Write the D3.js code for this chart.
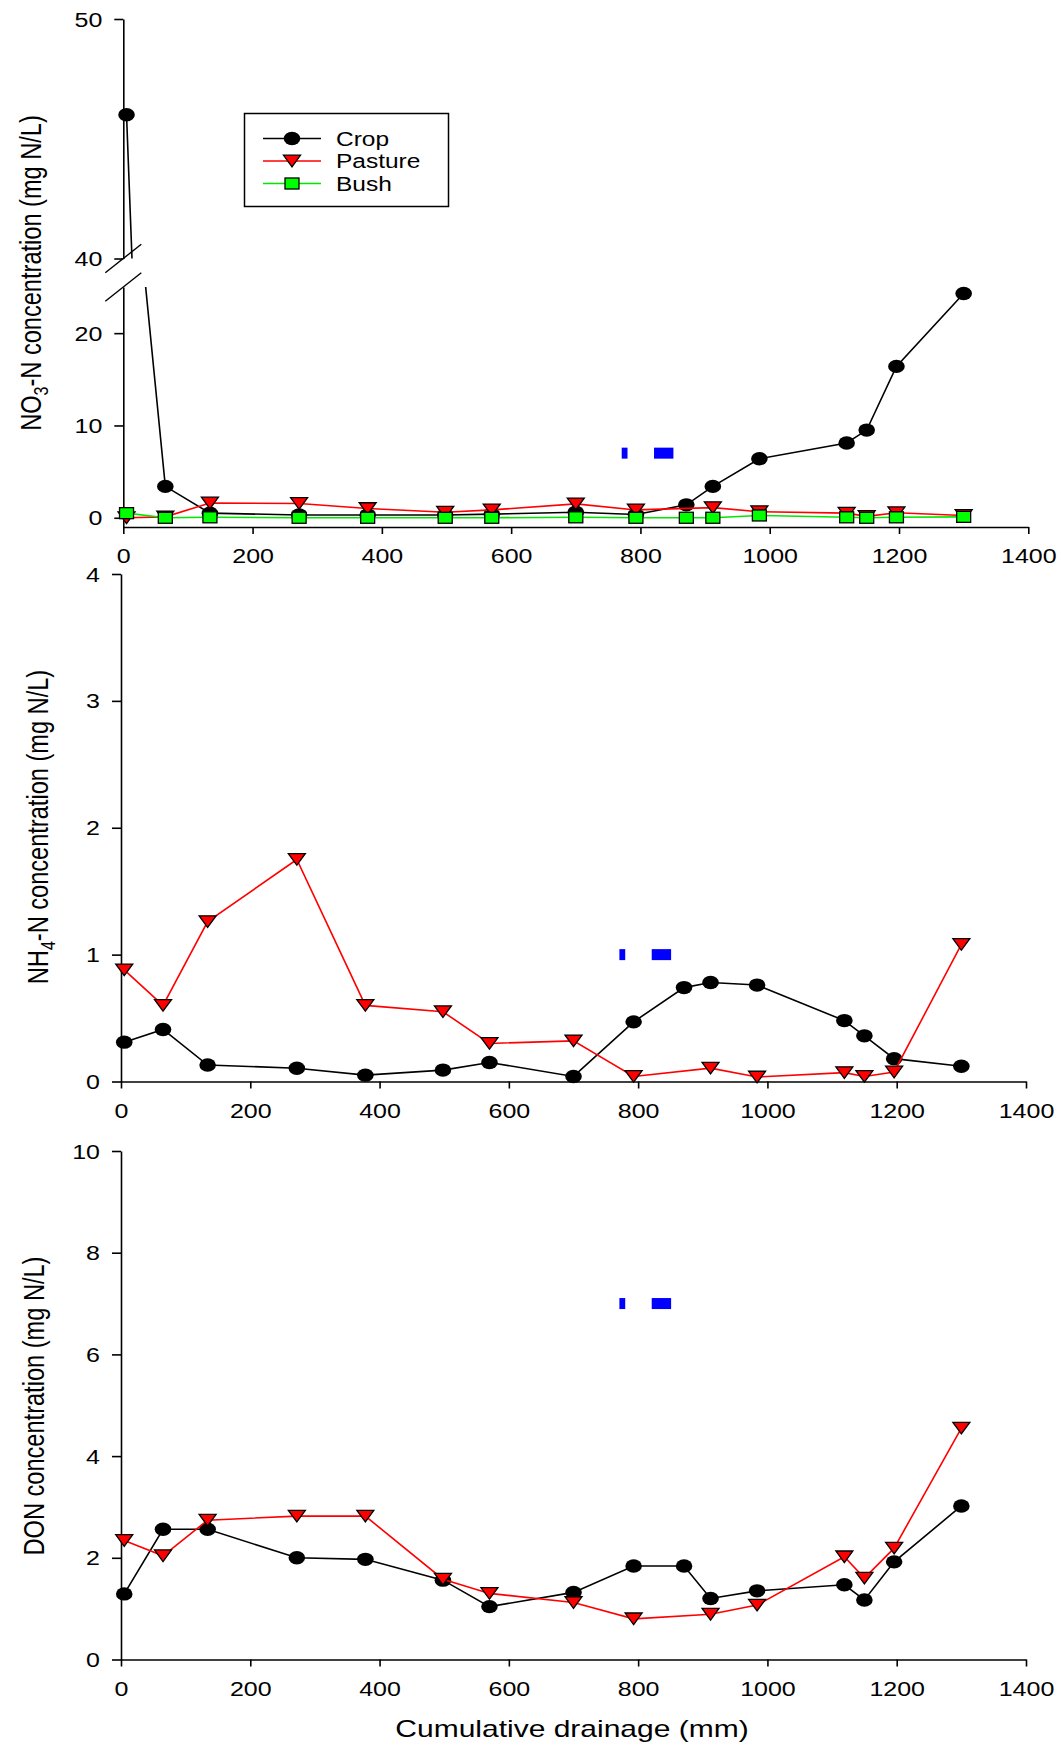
<!DOCTYPE html>
<html>
<head>
<meta charset="utf-8">
<script src="https://cdn.jsdelivr.net/npm/d3@7"></script>
<style>
  body { margin: 0; background: #fff; }
  svg { display: block; font-family: "Liberation Sans", Arial, sans-serif; }
</style>
</head>
<body>
<div id="chart"></div>
<script>
// cumulative drainage (mm), shared by all three panels
const drainage = [5, 65, 134, 272, 378, 498, 570, 700, 793, 871, 912, 984, 1119, 1150, 1196, 1300]

// NO3-N (mg N/L)
const no3Crop    = [46, 3.4, 0.5, 0.3, 0.3, 0.3, 0.4, 0.6, 0.35, 1.4, 3.4, 6.4, 8.1, 9.5, 16.4, 24.3]
const no3Pasture = [0, 0.1, 1.6, 1.55, 1.0, 0.6, 0.85, 1.5, 0.85, null, 1.1, 0.65, 0.5, 0.15, 0.55, 0.25]
const no3Bush    = [0.5, 0, 0.05, 0, 0, 0, 0, 0.05, 0, 0, 0, 0.25, 0.05, 0, 0.05, 0.1]

// NH4-N (mg N/L)
const nh4Crop    = [0.31, 0.41, 0.13, 0.105, 0.05, 0.09, 0.15, 0.04, 0.47, 0.74, 0.78, 0.76, 0.48, 0.36, 0.18, 0.12]
const nh4Pasture = [0.88, 0.60, 1.26, 1.75, 0.60, 0.55, 0.30, 0.32, 0.04, null, 0.105, 0.035, 0.07, 0.04, 0.075, 1.08]

// DON (mg N/L)
const donCrop    = [1.29, 2.56, 2.56, 2.0, 1.97, 1.56, 1.04, 1.32, 1.84, 1.84, 1.2, 1.35, 1.47, 1.17, 1.92, 3.02]
const donPasture = [2.34, 2.04, 2.74, 2.82, 2.82, 1.58, 1.30, 1.12, 0.80, null, 0.89, 1.07, 2.02, 1.60, 2.19, 4.55]

// ticks
const xTicks = [0, 200, 400, 600, 800, 1000, 1200, 1400]
const no3TicksLow = [0, 10, 20]
const no3TicksHigh = [40, 50]
const nh4Ticks = [0, 1, 2, 3, 4]
const donTicks = [0, 2, 4, 6, 8, 10]

// the stray blue marks in each panel (x ranges in mm, y in panel units)
const blueMarkX = [[771, 780], [821, 851]]
const blueMarkY = [7, 1, 7]

const legendNames = ["Crop", "Pasture", "Bush"]

const width = 1063
const height = 1747
const SQ = 0.8   // original figure was squashed vertically
const TICK_FONT = 25

const svg = d3.select('#chart')
              .append('svg')
              .attr('width', width)
              .attr('height', height)

const styles = {
  Crop:    {color: '#000000', shape: 'circle'},
  Pasture: {color: '#ff0000', shape: 'triangle'},
  Bush:    {color: '#00e800', shape: 'square'}
}

const drawMarker = (g, shape, x, y) => {
  if(shape === 'circle'){
    g.append('ellipse').attr('cx', x).attr('cy', y).attr('rx', 8.3).attr('ry', 6.7).attr('fill', '#000')
  }
  else if(shape === 'triangle'){
    g.append('path')
     .attr('d', `M${x-8.5},${y-5.8}L${x+8.5},${y-5.8}L${x},${y+5.8}Z`)
     .attr('fill', '#ff0000').attr('stroke', '#000').attr('stroke-width', 1.3)
  }
  else{
    g.append('rect').attr('x', x-7).attr('y', y-5.5).attr('width', 14).attr('height', 11)
     .attr('fill', '#00ff00').attr('stroke', '#000').attr('stroke-width', 1.3)
  }
}

const hText = (g, x, y, str, size, anchor) =>
  g.append('text')
   .attr('transform', `translate(${x},${y}) scale(1,${SQ})`)
   .attr('text-anchor', anchor || 'middle')
   .attr('font-size', size)
   .attr('fill', '#000')
   .text(str)

// rotated axis title, parts = [[text, isSub], ...]
const vTitle = (x, y, parts) => {
  const t = svg.append('text')
     .attr('transform', `translate(${x},${y}) rotate(-90) scale(${SQ},1)`)
     .attr('text-anchor', 'middle')
     .attr('font-size', 29.5)
     .attr('fill', '#000')
  let shifted = false
  parts.forEach(p => {
    const s = t.append('tspan').text(p[0])
    if(p[1]){
      s.attr('font-size', 20).attr('dy', 7)
      shifted = true
    }
    else if(shifted){
      s.attr('dy', -7)
      shifted = false
    }
  })
}

const styleAxis = (g, side) => {
  g.selectAll('path.domain').attr('stroke-width', 1.6)
  g.selectAll('.tick line').attr('stroke-width', 1.6)
  g.selectAll('.tick text')
   .attr('x', 0).attr('y', 0).attr('dy', null)
   .attr('font-size', TICK_FONT)
   .attr('font-family', '"Liberation Sans", Arial, sans-serif')
   .attr('fill', '#000')
  if(side === 'bottom'){
    g.selectAll('.tick text').attr('transform', `translate(0,36) scale(1,${SQ})`)
  }else{
    g.selectAll('.tick text').attr('text-anchor', 'end').attr('transform', `translate(-21,7) scale(1,${SQ})`)
  }
}

const fmt = d3.format('d')
const seriesPoints = vals => drainage.map((d, i) => ({x: d, y: vals[i]})).filter(p => p.y !== null)

/* ---------- Panel 1 : NO3-N with broken y axis ---------- */
const x1 = d3.scaleLinear().domain([0, 1400]).range([123.3, 1028.3])
const yHi = d3.scaleLinear().domain([40, 50]).range([258.5, 19])
const yLo = d3.scaleLinear().domain([-1, 25]).range([527, 287])

const defs = svg.append('defs')
defs.append('clipPath').attr('id', 'clipHi').append('rect')
    .attr('x', 0).attr('y', 0).attr('width', width).attr('height', yHi(40))
defs.append('clipPath').attr('id', 'clipLo').append('rect')
    .attr('x', 0).attr('y', yLo(25)).attr('width', width).attr('height', yLo(-1) - yLo(25))

const p1 = svg.append('g')

const ax1x = p1.append('g').attr('transform', `translate(0,${yLo(-1)})`)
  .call(d3.axisBottom(x1).tickValues(xTicks).tickFormat(fmt).tickSize(7).tickSizeOuter(0))
styleAxis(ax1x, 'bottom')
const ax1lo = p1.append('g').attr('transform', `translate(${x1(0)},0)`)
  .call(d3.axisLeft(yLo).tickValues(no3TicksLow).tickFormat(fmt).tickSize(9).tickSizeOuter(0))
styleAxis(ax1lo, 'left')
const ax1hi = p1.append('g').attr('transform', `translate(${x1(0)},0)`)
  .call(d3.axisLeft(yHi).tickValues(no3TicksHigh).tickFormat(fmt).tickSize(9).tickSizeOuter(0))
styleAxis(ax1hi, 'left')

// break marks
;[yHi(40), yLo(25)].forEach(yy => {
  p1.append('line')
    .attr('x1', x1(0) - 18).attr('y1', yy + 14.3)
    .attr('x2', x1(0) + 18).attr('y2', yy - 14.3)
    .attr('stroke', '#000').attr('stroke-width', 1.4)
})

const no3Series = [['Crop', no3Crop], ['Pasture', no3Pasture], ['Bush', no3Bush]]
no3Series.forEach(([name, vals]) => {
  const st = styles[name]
  const pts = seriesPoints(vals)
  ;[[yHi, 'clipHi'], [yLo, 'clipLo']].forEach(([ys, clip]) => {
    p1.append('path')
      .datum(pts)
      .attr('clip-path', `url(#${clip})`)
      .attr('fill', 'none')
      .attr('stroke', st.color)
      .attr('stroke-width', 1.6)
      .attr('d', d3.line().x(d => x1(d.x)).y(d => ys(d.y)))
  })
  pts.forEach(p => {
    const yy = p.y >= 40 ? yHi(p.y) : yLo(p.y)
    drawMarker(p1, st.shape, x1(p.x), yy)
  })
})

blueMarkX.forEach(r => {
  p1.append('rect').attr('x', x1(r[0])).attr('width', x1(r[1]) - x1(r[0]))
    .attr('y', yLo(blueMarkY[0]) - 5.5).attr('height', 11).attr('fill', '#0000ff')
})

// legend
const lg = svg.append('g')
lg.append('rect').attr('x', 244.5).attr('y', 113.5).attr('width', 204).attr('height', 93)
  .attr('fill', '#fff').attr('stroke', '#000').attr('stroke-width', 1.5)
legendNames.forEach((name, i) => {
  const st = styles[name]
  const yy = 138.5 + i * 22.5
  lg.append('line').attr('x1', 263).attr('x2', 321).attr('y1', yy).attr('y2', yy)
    .attr('stroke', st.color).attr('stroke-width', 1.6)
  drawMarker(lg, st.shape, 292, yy)
  hText(lg, 336, yy + 7, name, 24.5, 'start')
})

vTitle(41, 273, [['NO'], ['3', true], ['-N concentration (mg N/L)']])

/* ---------- Panels 2 and 3 ---------- */
const x2 = d3.scaleLinear().domain([0, 1400]).range([121, 1026])

const simplePanel = (yDomain, yRange, ticks, series, markY, title, titleX, titleY) => {
  const ys = d3.scaleLinear().domain(yDomain).range(yRange)
  const g = svg.append('g')
  const axx = g.append('g').attr('transform', `translate(0,${ys(yDomain[0])})`)
    .call(d3.axisBottom(x2).tickValues(xTicks).tickFormat(fmt).tickSize(7).tickSizeOuter(0))
  styleAxis(axx, 'bottom')
  const axy = g.append('g').attr('transform', `translate(${x2(0)},0)`)
    .call(d3.axisLeft(ys).tickValues(ticks).tickFormat(fmt).tickSize(9).tickSizeOuter(0))
  styleAxis(axy, 'left')

  series.forEach(([name, vals]) => {
    const st = styles[name]
    const pts = seriesPoints(vals)
    g.append('path')
     .datum(pts)
     .attr('fill', 'none')
     .attr('stroke', st.color)
     .attr('stroke-width', 1.6)
     .attr('d', d3.line().x(d => x2(d.x)).y(d => ys(d.y)))
    pts.forEach(p => drawMarker(g, st.shape, x2(p.x), ys(p.y)))
  })

  blueMarkX.forEach(r => {
    g.append('rect').attr('x', x2(r[0])).attr('width', x2(r[1]) - x2(r[0]))
     .attr('y', ys(markY) - 5.5).attr('height', 11).attr('fill', '#0000ff')
  })

  vTitle(titleX, titleY, title)
}

simplePanel([0, 4], [1081.5, 574], nh4Ticks,
  [['Crop', nh4Crop], ['Pasture', nh4Pasture]], blueMarkY[1],
  [['NH'], ['4', true], ['-N concentration (mg N/L)']], 48, 827)

simplePanel([0, 10], [1659.5, 1151], donTicks,
  [['Crop', donCrop], ['Pasture', donPasture]], blueMarkY[2],
  [['DON concentration (mg N/L)']], 44, 1406)

hText(svg, 572, 1737, 'Cumulative drainage (mm)', 30, 'middle')
</script>
</body>
</html>
